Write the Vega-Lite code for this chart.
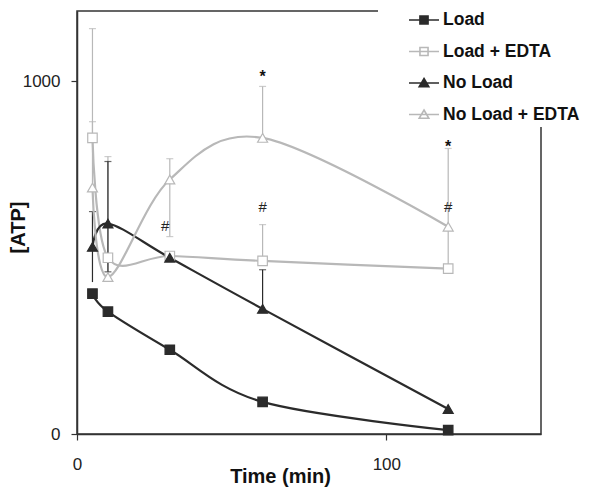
{
  "$schema": "https://vega.github.io/schema/vega-lite/v6.json",
  "width": 464,
  "height": 423,
  "autosize": {"type": "none"},
  "padding": {"left": 77, "top": 11, "right": 48, "bottom": 55},
  "background": "white",
  "datasets": {
    "pts": [
      {"series": "Load", "t": 5, "atp": 398},
      {"series": "Load", "t": 10, "atp": 347},
      {"series": "Load", "t": 30, "atp": 239},
      {"series": "Load", "t": 60, "atp": 91},
      {"series": "Load", "t": 120, "atp": 11},
      {"series": "Load + EDTA", "t": 5, "atp": 840},
      {"series": "Load + EDTA", "t": 10, "atp": 500},
      {"series": "Load + EDTA", "t": 30, "atp": 505},
      {"series": "Load + EDTA", "t": 60, "atp": 491},
      {"series": "Load + EDTA", "t": 120, "atp": 469},
      {"series": "No Load", "t": 5, "atp": 531},
      {"series": "No Load", "t": 10, "atp": 597},
      {"series": "No Load", "t": 30, "atp": 500},
      {"series": "No Load", "t": 60, "atp": 355},
      {"series": "No Load", "t": 120, "atp": 71},
      {"series": "No Load + EDTA", "t": 5, "atp": 699},
      {"series": "No Load + EDTA", "t": 10, "atp": 445},
      {"series": "No Load + EDTA", "t": 30, "atp": 722},
      {"series": "No Load + EDTA", "t": 60, "atp": 840},
      {"series": "No Load + EDTA", "t": 120, "atp": 588}
    ],
    "bars": [
      {"series": "Load + EDTA", "t": 5, "low": 840, "high": 1150},
      {"series": "Load + EDTA", "t": 60, "low": 491, "high": 594},
      {"series": "No Load + EDTA", "t": 5, "low": 699, "high": 886},
      {"series": "No Load + EDTA", "t": 10, "low": 445, "high": 787},
      {"series": "No Load + EDTA", "t": 30, "low": 560, "high": 781},
      {"series": "No Load + EDTA", "t": 60, "low": 840, "high": 986},
      {"series": "No Load + EDTA", "t": 120, "low": 469, "high": 810},
      {"series": "No Load", "t": 5, "low": 431, "high": 631},
      {"series": "No Load", "t": 10, "low": 460, "high": 773},
      {"series": "No Load", "t": 60, "low": 355, "high": 466}
    ],
    "caps": [
      {"series": "Load + EDTA", "t": 5, "y": 1150},
      {"series": "Load + EDTA", "t": 60, "y": 594},
      {"series": "No Load + EDTA", "t": 5, "y": 886},
      {"series": "No Load + EDTA", "t": 10, "y": 787},
      {"series": "No Load + EDTA", "t": 30, "y": 781},
      {"series": "No Load + EDTA", "t": 30, "y": 560},
      {"series": "No Load + EDTA", "t": 60, "y": 986},
      {"series": "No Load + EDTA", "t": 120, "y": 810},
      {"series": "No Load", "t": 5, "y": 631},
      {"series": "No Load", "t": 10, "y": 773},
      {"series": "No Load", "t": 10, "y": 460},
      {"series": "No Load", "t": 60, "y": 466}
    ],
    "stars": [
      {"t": 60, "y": 1028, "label": "*"},
      {"t": 120, "y": 827, "label": "*"}
    ],
    "hashes": [
      {"t": 28.5, "y": 591, "label": "#"},
      {"t": 60, "y": 645, "label": "#"},
      {"t": 120, "y": 645, "label": "#"}
    ]
  },
  "config": {
    "font": "Liberation Sans",
    "view": {"stroke": "#333333", "strokeWidth": 1.5},
    "axis": {
      "grid": false,
      "domainColor": "#333333",
      "domainWidth": 1.5,
      "tickColor": "#333333",
      "tickWidth": 1.2,
      "tickSize": 6,
      "labelFont": "Liberation Sans",
      "labelFontSize": 17,
      "labelColor": "#222222",
      "titleFont": "Liberation Sans",
      "titleFontSize": 20,
      "titleFontWeight": "bold",
      "titleColor": "#111111"
    }
  },
  "layer": [
    {
      "data": {"name": "bars"},
      "mark": {"type": "rule", "strokeWidth": 1.2},
      "encoding": {
        "x": {"field": "t", "type": "quantitative", "scale": {"domain": [0, 150], "nice": false},
          "axis": {"values": [0, 100], "title": "Time (min)", "titleX": 203, "titleY": 48, "titleBaseline": "alphabetic", "titleAlign": "center", "labelPadding": 16, "labelFlush": false}},
        "y": {"field": "low", "type": "quantitative", "scale": {"domain": [0, 1200], "nice": false},
          "axis": {"values": [0, 1000], "format": "d", "title": "[ATP]", "titleX": -59, "titleY": 216, "titleAngle": 270, "titleBaseline": "middle", "titleAlign": "center", "labelPadding": 11, "labelFlush": false}},
        "y2": {"field": "high"},
        "color": {"field": "series", "type": "nominal", "legend": null,
          "scale": {"domain": ["No Load + EDTA", "No Load", "Load + EDTA", "Load"], "range": ["#b8b8b8", "#2b2b2b", "#b8b8b8", "#2b2b2b"]}}
      }
    },
    {
      "data": {"name": "caps"},
      "mark": {"type": "tick", "orient": "horizontal", "size": 7, "thickness": 1.2},
      "encoding": {
        "x": {"field": "t", "type": "quantitative"},
        "y": {"field": "y", "type": "quantitative"},
        "color": {"field": "series", "type": "nominal", "legend": null}
      }
    },
    {
      "data": {"name": "pts"},
      "mark": {"type": "line", "interpolate": "cardinal", "strokeWidth": 2.2},
      "encoding": {
        "x": {"field": "t", "type": "quantitative"},
        "y": {"field": "atp", "type": "quantitative"},
        "color": {"field": "series", "type": "nominal", "legend": null}
      }
    },
    {
      "data": {"name": "pts"},
      "transform": [{"filter": "datum.t > 1000"}],
      "mark": {"type": "point", "filled": true, "opacity": 1},
      "encoding": {
        "x": {"field": "t", "type": "quantitative"},
        "y": {"field": "atp", "type": "quantitative"},
        "fill": {"field": "series", "type": "nominal",
          "scale": {"domain": ["Load", "Load + EDTA", "No Load", "No Load + EDTA"], "range": ["#2b2b2b", "#ffffff", "#2b2b2b", "#ffffff"]}},
        "stroke": {"field": "series", "type": "nominal",
          "scale": {"domain": ["Load", "Load + EDTA", "No Load", "No Load + EDTA"], "range": ["#2b2b2b", "#b8b8b8", "#2b2b2b", "#b8b8b8"]}},
        "shape": {
          "field": "series", "type": "nominal",
          "scale": {"domain": ["Load", "Load + EDTA", "No Load", "No Load + EDTA"],
            "range": ["M-1,0H1M-0.27,-0.27H0.27V0.27H-0.27Z", "M-1,0H1M-0.27,-0.27H0.27V0.27H-0.27Z", "M-1,0H1M0,-0.3L0.32,0.25H-0.32Z", "M-1,0H1M0,-0.3L0.32,0.25H-0.32Z"]},
          "legend": {
            "orient": "none", "legendX": 301, "legendY": -11, "title": null,
            "padding": 4, "fillColor": "white",
            "symbolSize": 900, "symbolOffset": 26, "labelOffset": 3, "symbolStrokeWidth": 1.6, "symbolOpacity": 1,
            "labelFont": "Liberation Sans", "labelFontWeight": "bold", "labelFontSize": 17.5, "labelColor": "#111111",
            "rowPadding": 6.5, "labelLimit": 300
          }
        }
      }
    },
    {
      "data": {"name": "pts"},
      "transform": [{"filter": {"field": "series", "equal": "Load"}}],
      "mark": {"type": "point", "shape": "square", "filled": true, "fill": "#2b2b2b", "stroke": "#2b2b2b", "strokeWidth": 1.2, "opacity": 1, "size": 90},
      "encoding": {
        "x": {"field": "t", "type": "quantitative"},
        "y": {"field": "atp", "type": "quantitative"}
      }
    },
    {
      "data": {"name": "pts"},
      "transform": [{"filter": {"field": "series", "equal": "Load + EDTA"}}],
      "mark": {"type": "point", "shape": "square", "filled": true, "fill": "#ffffff", "stroke": "#b8b8b8", "strokeWidth": 1.2, "opacity": 1, "size": 90},
      "encoding": {
        "x": {"field": "t", "type": "quantitative"},
        "y": {"field": "atp", "type": "quantitative"}
      }
    },
    {
      "data": {"name": "pts"},
      "transform": [{"filter": {"field": "series", "equal": "No Load"}}],
      "mark": {"type": "point", "shape": "triangle-up", "filled": true, "fill": "#2b2b2b", "stroke": "#2b2b2b", "strokeWidth": 1.2, "opacity": 1, "size": 100},
      "encoding": {
        "x": {"field": "t", "type": "quantitative"},
        "y": {"field": "atp", "type": "quantitative"}
      }
    },
    {
      "data": {"name": "pts"},
      "transform": [{"filter": {"field": "series", "equal": "No Load + EDTA"}}],
      "mark": {"type": "point", "shape": "triangle-up", "filled": true, "fill": "#ffffff", "stroke": "#b8b8b8", "strokeWidth": 1.2, "opacity": 1, "size": 100},
      "encoding": {
        "x": {"field": "t", "type": "quantitative"},
        "y": {"field": "atp", "type": "quantitative"}
      }
    },
    {
      "data": {"name": "stars"},
      "mark": {"type": "text", "fontSize": 16, "fontWeight": "bold", "baseline": "middle", "align": "center", "dy": 5, "color": "#111111"},
      "encoding": {
        "x": {"field": "t", "type": "quantitative"},
        "y": {"field": "y", "type": "quantitative"},
        "text": {"field": "label"}
      }
    },
    {
      "data": {"name": "hashes"},
      "mark": {"type": "text", "fontSize": 15, "baseline": "middle", "align": "center", "color": "#222222"},
      "encoding": {
        "x": {"field": "t", "type": "quantitative"},
        "y": {"field": "y", "type": "quantitative"},
        "text": {"field": "label"}
      }
    }
  ]
}
